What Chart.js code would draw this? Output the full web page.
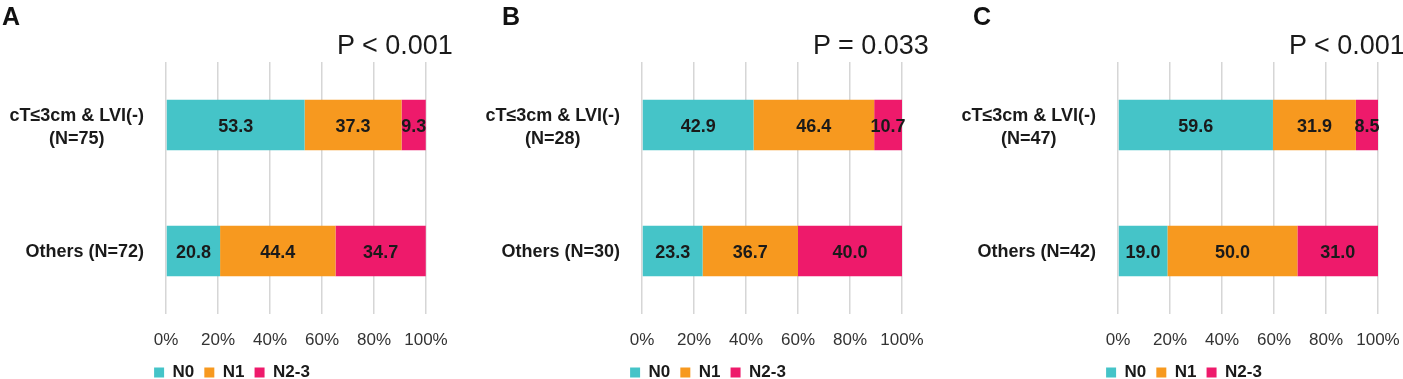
<!DOCTYPE html>
<html>
<head>
<meta charset="utf-8">
<script src="https://cdn.jsdelivr.net/npm/chart.js@4.4.0/dist/chart.umd.min.js"></script>
<style>
  html, body { margin: 0; padding: 0; background: #fff; }
  #wrap { position: relative; width: 1403px; height: 379px; overflow: hidden; }
  #wrap canvas { position: absolute; top: 0; }
  .letter { position: absolute; top: 4px; font: bold 25px/25px "Liberation Sans", Arial, sans-serif; color: #111; }
  .pval { position: absolute; top: 32px; font: 27px/27px "Liberation Sans", Arial, sans-serif; color: #1a1a1a; white-space: nowrap; }
</style>
</head>
<body>
<div id="wrap"></div>
<script>
// 범례 / 축 눈금
const seriesNames = ['N0', 'N1', 'N2-3'];
const seriesColors = ['#45c4c8', '#f7991f', '#ee1a6b'];
const tickLabels = ['0%', '20%', '40%', '60%', '80%', '100%'];

// 패널 제목 / P값
const panelLetters = ['A', 'B', 'C'];
const pValues = ['P < 0.001', 'P = 0.033', 'P < 0.001'];

// A
const rowsA = [['cT≤3cm & LVI(-)', '(N=75)'], ['Others (N=72)']];
const n0A = [53.3, 20.8];
const n1A = [37.3, 44.4];
const n23A = [9.3, 34.7];

// B
const rowsB = [['cT≤3cm & LVI(-)', '(N=28)'], ['Others (N=30)']];
const n0B = [42.9, 23.3];
const n1B = [46.4, 36.7];
const n23B = [10.7, 40.0];

// C
const rowsC = [['cT≤3cm & LVI(-)', '(N=47)'], ['Others (N=42)']];
const n0C = [59.6, 19.0];
const n1C = [31.9, 50.0];
const n23C = [8.5, 31.0];

const FONT = '"Liberation Sans", Arial, sans-serif';
const PLOT_LEFT = 166;   // 캔버스 안에서 0% 위치
const SIDE_PAD = 38;
const canvasLefts = [0, 476, 952];

// 막대 안 숫자
const barValues = {
  id: 'barValues',
  afterDatasetsDraw(chart) {
    const ctx = chart.ctx;
    ctx.save();
    ctx.font = 'bold 18px ' + FONT;
    ctx.fillStyle = '#1a1a1a';
    ctx.textAlign = 'center';
    ctx.textBaseline = 'middle';
    chart.data.datasets.forEach((ds, di) => {
      chart.getDatasetMeta(di).data.forEach((bar, i) => {
        ctx.fillText(ds.data[i].toFixed(1), (bar.x + bar.base) / 2, bar.y + 2);
      });
    });
    ctx.restore();
  }
};

// 왼쪽 행 이름 (둘째 줄은 가운데 정렬)
const rowLabels = {
  id: 'rowLabels',
  afterDraw(chart) {
    const ctx = chart.ctx;
    const yScale = chart.scales.y;
    const right = chart.chartArea.left - 22;
    ctx.save();
    ctx.font = 'bold 18px ' + FONT;
    ctx.fillStyle = '#1a1a1a';
    ctx.textBaseline = 'middle';
    chart.data.labels.forEach((lines, i) => {
      const cy = yScale.getPixelForValue(i);
      if (lines.length === 1) {
        ctx.textAlign = 'right';
        ctx.fillText(lines[0], right, cy + 1);
      } else {
        const w = ctx.measureText(lines[0]).width;
        ctx.textAlign = 'right';
        ctx.fillText(lines[0], right, cy - 9);
        ctx.textAlign = 'center';
        ctx.fillText(lines[1], right - w / 2, cy + 14);
      }
    });
    ctx.restore();
  }
};

function makeChart(idx, rows, n0, n1, n23) {
  const wrap = document.getElementById('wrap');
  const canvas = document.createElement('canvas');
  canvas.width = 464;
  canvas.height = 391;
  canvas.style.left = canvasLefts[idx] + 'px';
  wrap.appendChild(canvas);

  const letter = document.createElement('div');
  letter.className = 'letter';
  letter.style.left = (canvasLefts[idx] + [2, 26, 21][idx]) + 'px';
  letter.textContent = panelLetters[idx];
  wrap.appendChild(letter);

  const p = document.createElement('div');
  p.className = 'pval';
  p.style.left = (canvasLefts[idx] + PLOT_LEFT + 171) + 'px';
  p.textContent = pValues[idx];
  wrap.appendChild(p);

  const values = [n0, n1, n23];
  return new Chart(canvas, {
    type: 'bar',
    data: {
      labels: rows,
      datasets: seriesNames.map((name, i) => ({
        label: name,
        data: values[i],
        backgroundColor: seriesColors[i],
        borderWidth: 0,
        barPercentage: 0.4,
        categoryPercentage: 1
      }))
    },
    options: {
      indexAxis: 'y',
      responsive: false,
      animation: false,
      layout: { padding: { left: SIDE_PAD, right: SIDE_PAD, top: 62, bottom: 0 } },
      scales: {
        x: {
          stacked: true,
          min: 0,
          max: 100,
          afterFit: (s) => { s.height = 40; },
          border: { display: false },
          grid: { color: '#d6d6d6', lineWidth: 1.5, drawTicks: false },
          ticks: {
            stepSize: 20,
            padding: 16,
            color: '#333',
            font: { size: 17, family: FONT },
            callback: (v, i) => tickLabels[i]
          }
        },
        y: {
          stacked: true,
          afterFit: (s) => { s.width = PLOT_LEFT - SIDE_PAD; },
          border: { display: false },
          grid: { display: false },
          ticks: { display: false }
        }
      },
      plugins: {
        tooltip: { enabled: false },
        legend: {
          display: true,
          position: 'bottom',
          labels: {
            boxWidth: 10,
            boxHeight: 10,
            padding: 10,
            color: '#1a1a1a',
            font: { size: 17, weight: 'bold', family: FONT }
          }
        }
      }
    },
    plugins: [barValues, rowLabels]
  });
}

const chartA = makeChart(0, rowsA, n0A, n1A, n23A);
const chartB = makeChart(1, rowsB, n0B, n1B, n23B);
const chartC = makeChart(2, rowsC, n0C, n1C, n23C);
</script>
</body>
</html>
